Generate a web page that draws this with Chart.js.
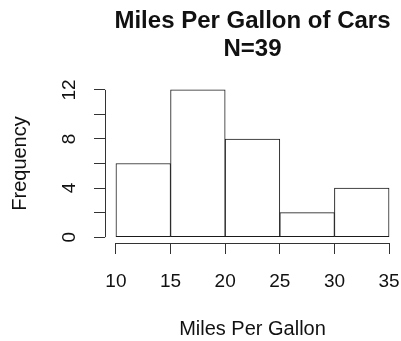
<!DOCTYPE html>
<html>
<head>
<meta charset="utf-8">
<script src="https://cdn.jsdelivr.net/npm/chart.js@4.4.0/dist/chart.umd.min.js"></script>
<style>
  html, body { margin: 0; padding: 0; background: #fff; }
  #wrap { width: 401px; height: 341px; }
</style>
</head>
<body>
<div id="wrap"><canvas id="chart" width="401" height="341"></canvas></div>
<script>
// histogram bins (left edge, right edge) and counts
var bin_start = [10, 15, 20, 25, 30];
var bin_end   = [15, 20, 25, 30, 35];
var counts    = [6, 12, 8, 2, 4];
var x_ticks   = [10, 15, 20, 25, 30, 35];
var y_ticks   = [0, 2, 4, 6, 8, 10, 12];
var y_labels  = [0, 4, 8, 12];

var font_family = '"Liberation Sans", Arial, Helvetica, sans-serif';

var hist_data = [];
for (var i = 0; i < counts.length; i++) {
    hist_data.push({ x: (bin_start[i] + bin_end[i]) / 2, y: counts[i] });
}

// R style axes: the line only covers the tick range
var rAxes = {
    id: 'rAxes',
    afterDatasetsDraw: function(chart) {
        var ctx = chart.ctx;
        var xs = chart.scales.x;
        var ys = chart.scales.y;
        var area = chart.chartArea;
        ctx.save();
        ctx.strokeStyle = '#333';
        ctx.lineWidth = 1;
        ctx.beginPath();
        ctx.moveTo(Math.round(area.left) + 0.5, ys.getPixelForValue(y_ticks[0]));
        ctx.lineTo(Math.round(area.left) + 0.5, ys.getPixelForValue(y_ticks[y_ticks.length - 1]));
        ctx.moveTo(xs.getPixelForValue(x_ticks[0]), Math.round(area.bottom) + 0.5);
        ctx.lineTo(xs.getPixelForValue(x_ticks[x_ticks.length - 1]), Math.round(area.bottom) + 0.5);
        ctx.stroke();
        ctx.restore();
    }
};

var ctx = document.getElementById('chart').getContext('2d');
var myChart = new Chart(ctx, {
    type: 'bar',
    data: {
        datasets: [{
            label: 'Frequency',
            data: hist_data,
            backgroundColor: '#ffffff',
            borderColor: '#1a1a1a',
            borderWidth: 1,
            borderSkipped: false,
            barPercentage: 1,
            categoryPercentage: 1
        }]
    },
    options: {
        responsive: false,
        animation: false,
        layout: { padding: { left: 0, right: 1, top: 0, bottom: 0 } },
        plugins: {
            legend: { display: false },
            tooltip: { enabled: false },
            title: {
                display: true,
                fullSize: false,
                text: ['Miles Per Gallon of Cars', 'N=39'],
                color: '#111',
                font: { family: font_family, size: 24, weight: 'bold', lineHeight: '28px' },
                padding: { top: 7, bottom: 21 }
            }
        },
        scales: {
            x: {
                type: 'linear',
                min: 9,
                max: 36,
                offset: false,
                afterBuildTicks: function(scale) {
                    scale.ticks = x_ticks.map(function(v) { return { value: v }; });
                },
                afterFit: function(scale) {
                    scale.height = 98;
                    scale.paddingLeft = 0;
                    scale.paddingRight = 0;
                },
                border: { display: false },
                grid: {
                    display: true,
                    offset: false,
                    drawOnChartArea: false,
                    drawTicks: true,
                    tickLength: 11,
                    tickColor: '#333',
                    lineWidth: 1
                },
                ticks: {
                    color: '#111',
                    padding: 16,
                    maxRotation: 0,
                    font: { family: font_family, size: 19 }
                },
                title: {
                    display: true,
                    text: 'Miles Per Gallon',
                    color: '#111',
                    font: { family: font_family, size: 20 },
                    padding: { top: 0, bottom: 0 }
                }
            },
            y: {
                type: 'linear',
                min: -0.48,
                max: 12.48,
                afterBuildTicks: function(scale) {
                    scale.ticks = y_ticks.map(function(v) { return { value: v }; });
                },
                afterFit: function(scale) {
                    scale.width = 105;
                    scale.paddingTop = 0;
                    scale.paddingBottom = 0;
                },
                border: { display: false },
                grid: {
                    display: true,
                    drawOnChartArea: false,
                    drawTicks: true,
                    tickLength: 11,
                    tickColor: '#333',
                    lineWidth: 1
                },
                ticks: {
                    color: '#111',
                    padding: 14,
                    minRotation: 90,
                    maxRotation: 90,
                    crossAlign: 'center',
                    font: { family: font_family, size: 19 },
                    callback: function(v) {
                        return y_labels.indexOf(v) >= 0 ? v : '';
                    }
                },
                title: {
                    display: true,
                    text: 'Frequency',
                    color: '#111',
                    font: { family: font_family, size: 20 },
                    padding: { top: 8, bottom: 0 }
                }
            }
        }
    },
    plugins: [rAxes]
});
</script>
</body>
</html>
